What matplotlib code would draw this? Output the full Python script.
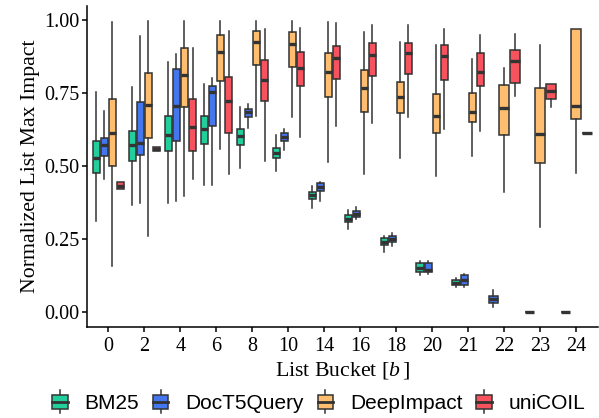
import matplotlib
matplotlib.use("Agg")
import matplotlib.pyplot as plt
from matplotlib.legend_handler import HandlerBase
from matplotlib.patches import Rectangle, Patch
from matplotlib.lines import Line2D

plt.rcParams['font.family'] = ['Liberation Serif', 'DejaVu Serif']
plt.rcParams['mathtext.fontset'] = 'custom'
plt.rcParams['mathtext.rm'] = 'Liberation Serif'
plt.rcParams['mathtext.it'] = 'Liberation Serif:italic'

buckets = ["0", "2", "4", "6", "8", "10", "14", "16", "18", "20", "21", "22", "23", "24"]
models = ["BM25", "DocT5Query", "DeepImpact", "uniCOIL"]
colors = ["#22CE9C", "#4476EE", "#FFBE6F", "#F7535F"]

# (whisker low, q1, median, q3, whisker high) per bucket, None = no data
bm25 = [
    (0.312, 0.477, 0.529, 0.588, 0.756),
    (0.366, 0.518, 0.574, 0.620, 0.772),
    (0.375, 0.553, 0.606, 0.674, 0.856),
    (0.437, 0.577, 0.629, 0.671, 0.783),
    (0.493, 0.573, 0.605, 0.629, 0.704),
    (0.485, 0.530, 0.546, 0.562, 0.607),
    (0.356, 0.388, 0.401, 0.413, 0.434),
    (0.286, 0.311, 0.320, 0.332, 0.352),
    (0.207, 0.229, 0.241, 0.254, 0.263),
    (0.127, 0.139, 0.153, 0.170, 0.177),
    (0.087, 0.094, 0.100, 0.111, 0.116),
    None, None, None,
]
doct5 = [
    (0.456, 0.534, 0.572, 0.597, 0.689),
    (0.375, 0.539, 0.579, 0.721, 0.948),
    (0.383, 0.588, 0.706, 0.834, 0.886),
    (0.437, 0.640, 0.756, 0.777, 0.802),
    (0.632, 0.670, 0.687, 0.698, 0.713),
    (0.555, 0.588, 0.602, 0.613, 0.627),
    (0.383, 0.417, 0.430, 0.442, 0.447),
    (0.318, 0.326, 0.337, 0.347, 0.360),
    (0.227, 0.241, 0.250, 0.261, 0.271),
    (0.131, 0.139, 0.145, 0.170, 0.177),
    (0.087, 0.094, 0.111, 0.127, 0.131),
    (0.019, 0.031, 0.045, 0.057, 0.076),
    (0.002, 0.002, 0.002, 0.002, 0.002),
    (0.002, 0.002, 0.002, 0.002, 0.002),
]
deepimpact = [
    (0.158, 0.500, 0.613, 0.731, 0.993),
    (0.263, 0.597, 0.711, 0.820, 0.999),
    (0.397, 0.704, 0.813, 0.905, 0.999),
    (0.559, 0.792, 0.891, 0.949, 0.999),
    (0.672, 0.847, 0.925, 0.964, 0.999),
    (0.669, 0.842, 0.918, 0.960, 0.999),
    (0.515, 0.737, 0.822, 0.887, 0.993),
    (0.473, 0.687, 0.769, 0.831, 0.959),
    (0.527, 0.683, 0.738, 0.788, 0.926),
    (0.468, 0.615, 0.672, 0.748, 0.916),
    (0.536, 0.652, 0.687, 0.753, 0.869),
    (0.411, 0.609, 0.699, 0.780, 0.838),
    (0.292, 0.513, 0.612, 0.769, 0.916),
    (0.477, 0.664, 0.706, 0.972, 0.972),
]
unicoil = [
    (0.422, 0.422, 0.434, 0.445, 0.445),
    (0.552, 0.552, 0.559, 0.565, 0.565),
    (0.456, 0.551, 0.635, 0.731, 0.907),
    (0.475, 0.615, 0.725, 0.806, 0.963),
    (0.519, 0.723, 0.797, 0.863, 0.970),
    (0.602, 0.774, 0.837, 0.891, 0.975),
    (0.640, 0.800, 0.870, 0.911, 0.991),
    (0.647, 0.811, 0.882, 0.922, 0.984),
    (0.670, 0.817, 0.888, 0.924, 0.985),
    (0.627, 0.797, 0.879, 0.915, 0.970),
    (0.620, 0.774, 0.824, 0.889, 0.949),
    (0.740, 0.786, 0.861, 0.899, 0.953),
    (0.704, 0.732, 0.757, 0.782, 0.782),
    (0.616, 0.616, 0.616, 0.616, 0.616),
]
series = [bm25, doct5, deepimpact, unicoil]

EDGE = "#333333"

fig = plt.figure(figsize=(5.99, 4.18), dpi=100)
ax = fig.add_axes([0.145, 0.218, 0.853, 0.768])

for i in range(len(buckets)):
    present = [m for m in range(len(models)) if series[m][i] is not None]
    n = len(present)
    for k, m in enumerate(present):
        lo, q1, med, q3, hi = series[m][i]
        stat = dict(whislo=lo, q1=q1, med=med, q3=q3, whishi=hi)
        pos = i - 0.45 + (k + 0.5) * 0.9 / n
        ax.bxp([stat], positions=[pos], widths=0.9 / n * 0.9, patch_artist=True,
               showfliers=False, showcaps=False,
               boxprops=dict(facecolor=colors[m], edgecolor=EDGE, linewidth=1.1),
               medianprops=dict(color=EDGE, linewidth=2.4, solid_capstyle='butt'),
               whiskerprops=dict(color=EDGE, linewidth=1.1))

ax.set_xlim(-0.6, len(buckets) - 0.4)
ax.set_ylim(-0.05, 1.05)
ax.set_xticks(range(len(buckets)))
ax.set_xticklabels(buckets)
ax.set_yticks([0, 0.25, 0.5, 0.75, 1.0])
ax.set_yticklabels(["0.00", "0.25", "0.50", "0.75", "1.00"])
for s in ["top", "right"]:
    ax.spines[s].set_visible(False)
for s in ["left", "bottom"]:
    ax.spines[s].set_linewidth(1.1)
ax.tick_params(length=3.5, width=1.1, labelsize=14.5, pad=2)
ax.tick_params(axis="x", pad=4)
ax.set_xlabel("List Bucket [$b\\,$]", fontsize=15.7, labelpad=3)
ax.set_ylabel("Normalized List Max Impact", fontsize=15.7, labelpad=3)


class BoxKey(HandlerBase):
    def create_artists(self, legend, orig_handle, xdescent, ydescent,
                       width, height, fontsize, trans):
        fc = orig_handle.get_facecolor()
        x0 = -xdescent
        y0 = -ydescent
        cx = x0 + width / 2
        whisk = Line2D([cx, cx], [y0 - 0.37 * height, y0 + 1.37 * height],
                       color=EDGE, lw=1.1, transform=trans)
        box = Rectangle((x0, y0), width, height, facecolor=fc,
                        edgecolor=EDGE, lw=1.1, transform=trans)
        med = Line2D([x0, x0 + width], [y0 + height / 2] * 2,
                     color=EDGE, lw=2.0, transform=trans)
        return [whisk, box, med]


handles = [Patch(facecolor=c) for c in colors]
fig.legend(handles, models, loc="center", bbox_to_anchor=(0.532, 0.034), ncol=4,
           frameon=False, handler_map={Patch: BoxKey()},
           prop=dict(family="Liberation Sans", size=15),
           handlelength=0.75, handleheight=0.6, handletextpad=0.8,
           columnspacing=0.67, borderpad=0, borderaxespad=0)

fig.savefig("out.png", dpi=100)
